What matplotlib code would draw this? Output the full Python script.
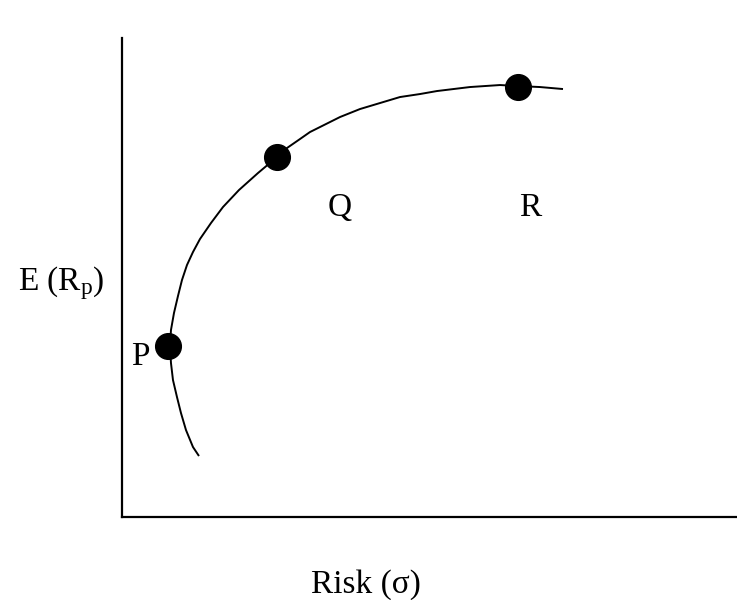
import matplotlib.pyplot as plt

plt.rcParams['font.family'] = ['Liberation Serif', 'DejaVu Serif']
plt.rcParams['mathtext.fontset'] = 'custom'
plt.rcParams['mathtext.rm'] = 'Liberation Serif'
plt.rcParams['mathtext.it'] = 'Liberation Serif:italic'

# efficient frontier, risk vs expected return (arbitrary units)
risk = [77, 71, 64, 59, 55, 51, 49, 48, 49, 52, 56, 60, 65, 71, 78, 89, 101,
        117, 136, 155, 165, 178, 188, 198, 218, 238, 258, 278, 298, 315, 348,
        363, 378, 396, 418, 441]
ret = [61, 70, 87, 104, 120, 137, 154, 171, 187, 204, 221, 237, 252, 265, 278,
       294, 310, 327, 344, 360, 369, 378, 385, 390, 400, 408, 414, 420, 423,
       426, 430, 431, 432, 431, 430, 428]

# named portfolios on the frontier
port_names = ['P', 'Q', 'R']
port_risk = [46, 155, 396]
port_ret = [171, 360, 430]

fig = plt.figure(figsize=(7.37, 6), dpi=100)
ax = fig.add_axes([0.1655, 0.1383, 0.8345, 0.7983])

ax.plot(risk, ret, color='black', lw=1.4, solid_joinstyle='round',
        solid_capstyle='butt')
ax.plot(port_risk, port_ret, 'o', color='black', markersize=18.5)

# label offsets for each portfolio
offsets = {'P': (-28, -19), 'Q': (63, -59), 'R': (12, -129)}
for name, x, y in zip(port_names, port_risk, port_ret):
    dx, dy = offsets[name]
    ax.text(x + dx, y + dy, name, fontsize=24, ha='center', va='baseline')

ax.set_xlim(0, 615)
ax.set_ylim(0, 479)
ax.spines['top'].set_visible(False)
ax.spines['right'].set_visible(False)
ax.spines['left'].set_linewidth(1.6)
ax.spines['bottom'].set_linewidth(1.6)
ax.set_xticks([])
ax.set_yticks([])

fig.text(0.0828, 0.5167, r'E (R$_{\mathrm{p}}$)', fontsize=24,
         ha='center', va='baseline')
fig.text(0.4966, 0.0117, 'Risk (σ)', fontsize=24, ha='center', va='baseline')

fig.savefig('out.png', dpi=100)
